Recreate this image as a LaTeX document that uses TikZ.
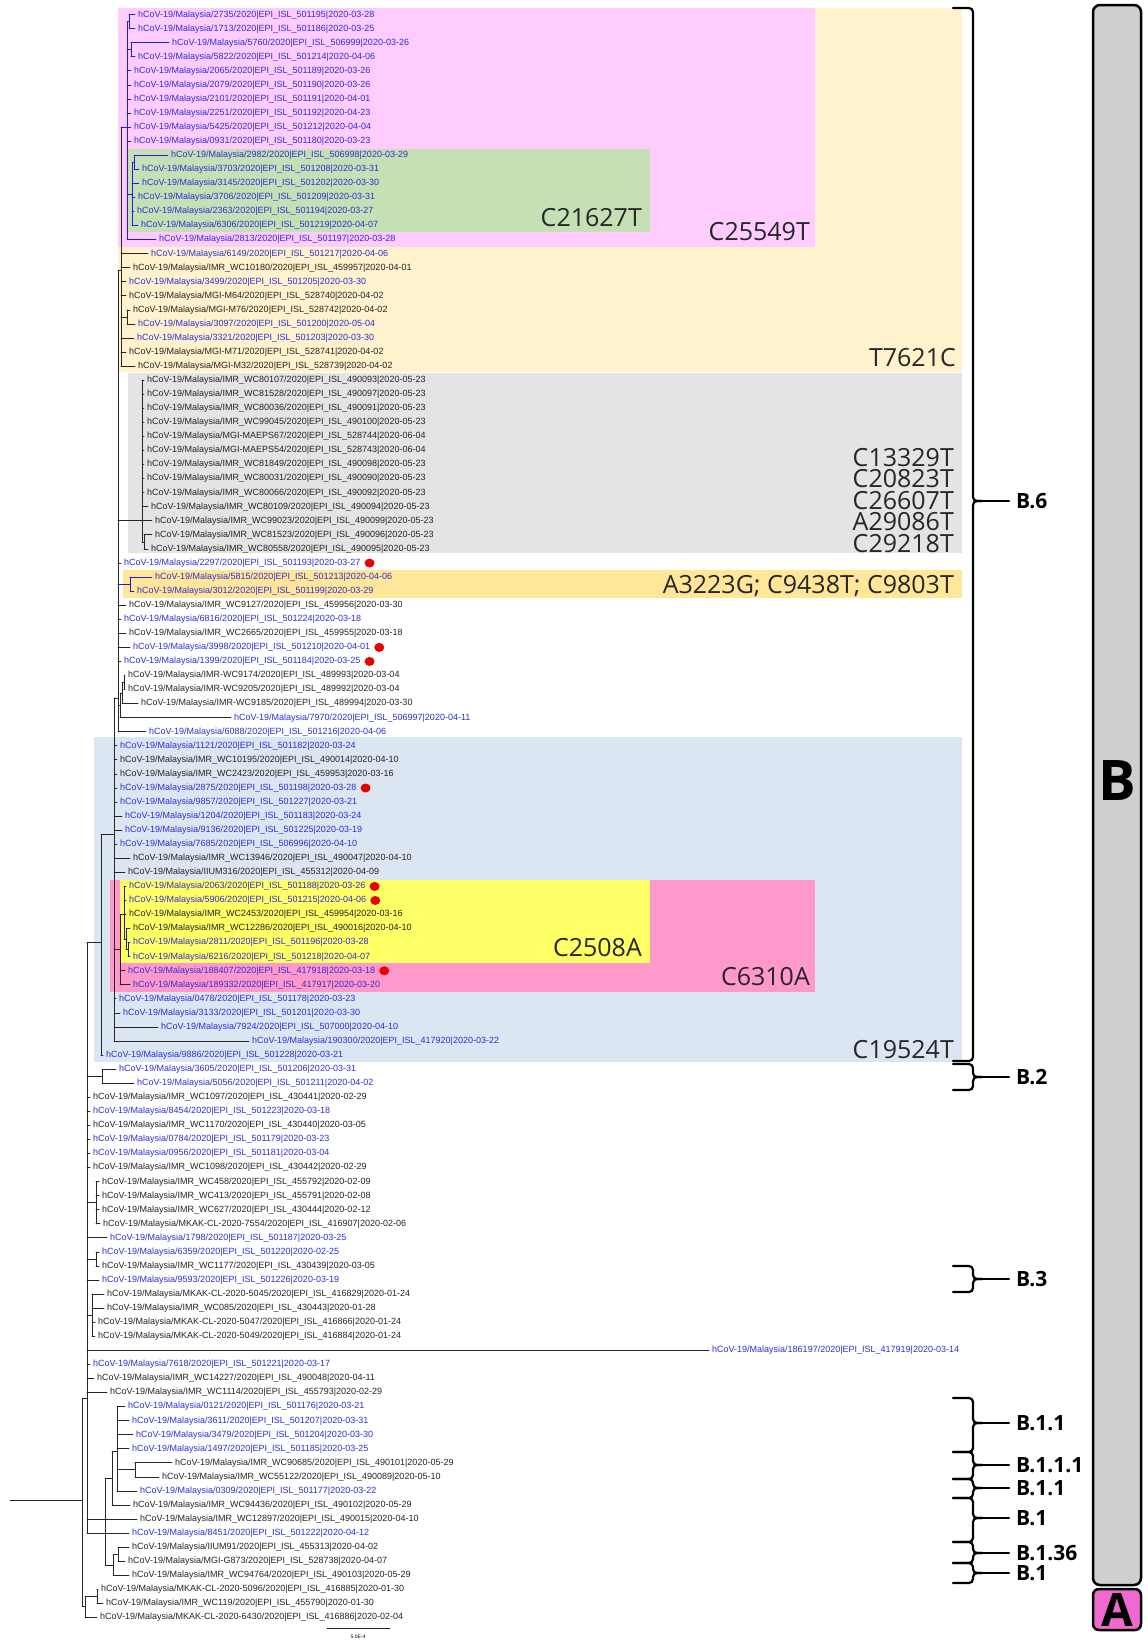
\documentclass[tikz,border=0pt]{standalone}
\usepackage{fontspec}
\setmainfont{Liberation Sans}
\newfontfamily\osans{Open Sans}
\usepackage{tikz}

\definecolor{leafblue}{RGB}{45,45,215}
\definecolor{leafblack}{RGB}{35,35,35}
\definecolor{treeblue}{RGB}{30,30,225}
\definecolor{creambox}{RGB}{255,242,204}
\definecolor{pinkbox}{RGB}{255,204,255}
\definecolor{greenbox}{RGB}{197,224,180}
\definecolor{greybox}{RGB}{228,228,228}
\definecolor{orangebox}{RGB}{255,230,153}
\definecolor{bluebox}{RGB}{220,230,242}
\definecolor{rosebox}{RGB}{255,153,204}
\definecolor{yellowbox}{RGB}{255,255,102}
\definecolor{bargrey}{RGB}{208,206,206}
\definecolor{barpink}{RGB}{238,106,206}
\definecolor{dotred}{RGB}{235,0,0}

\tikzset{
  branch/.style={draw=black!85, line width=0.9pt, line cap=round},
  leaf/.style={anchor=west, inner xsep=3pt, inner ysep=0pt, font=\fontsize{9}{10}\selectfont},
  bluetx/.style={text=leafblue},
  blacktx/.style={text=leafblack},
  mutlab/.style={anchor=east, inner sep=0pt, text height=17pt, text depth=0pt,
    text=black!85, font=\osans\fontsize{25}{26}\selectfont},
  mutstack/.style={anchor=north east, inner sep=0pt, align=right,
    text=black!85, font=\osans\fontsize{25}{21.5}\selectfont},
  linlab/.style={anchor=west, inner sep=0pt, font=\osans\bfseries\fontsize{21}{22}\selectfont},
  pbrace/.style={line width=2.2pt, line cap=round},
  cladeletter/.style={inner sep=0pt, font=\osans\bfseries\fontsize{56}{56}\selectfont}
}

% row -> y (pixels, downwards)
\newcommand{\rowy}[1]{(14.06*(#1)+0.64)}
% leaf: row, parent x, text x, colour style, id, EPI number, date
\newcommand{\seqleaf}[7]{%
  \node[leaf,#4] (l#1) at ({#3-3},{\rowy{#1}}) {hCoV-19/Malaysia/#5/2020|EPI\_ISL\_#6|2020-#7};
  \draw[branch] (#2,{\rowy{#1}}) -- (l#1.west);}
% inner node: name, x, row, top row, bottom row, parent x
\newcommand{\clade}[6]{%
  \coordinate (#1) at (#2,{\rowy{#3}});
  \draw[branch] (#2,{\rowy{#4}}) -- (#2,{\rowy{#5}});
  \draw[branch] (#6,{\rowy{#3}}) -- (#1);}
% lineage bracket: name, top, tip, bottom, label
\newcommand{\lineage}[5]{%
  \draw[pbrace, rounded corners=4pt] (953,#2) -- (973,#2) -- (973,#3) -- (982,#3);
  \draw[pbrace, rounded corners=4pt] (953,#4) -- (973,#4) -- (973,#3) -- (982,#3);
  \draw[pbrace] (980,#3) -- (1009,#3);
  \node[linlab] (#1) at (1016,#3) {#5};}

\begin{document}
\begin{tikzpicture}[x=1pt, y=-1pt]
    \useasboundingbox (0,0) rectangle (1148,1644);

    % Coloured clade boxes
    \fill[creambox] (118,8) rectangle (962,372);
    \fill[pinkbox] (118,8) rectangle (815,247);
    \fill[greenbox] (128,149) rectangle (650,232);
    \fill[greybox] (128,373) rectangle (962,553);
    \fill[orangebox] (123,570) rectangle (962,598);
    \fill[bluebox] (94,737) rectangle (962,1062);
    \fill[rosebox] (110,880) rectangle (815,992);
    \fill[yellowbox] (120,880) rectangle (650,963);

    % C25549T clade
    \begin{scope}[branch/.append style={draw=treeblue}]
    \clade{nP}{127}{9}{1.5}{17}{121}
    \clade{nA12}{129}{1.5}{1}{2}{127}
    \clade{nA34}{131}{3.5}{3}{4}{127}
    \clade{nG}{132}{13.75}{11.5}{16}{127}
    \clade{nA1112}{134}{11.5}{11}{12}{132}
    \seqleaf{1}{129}{138}{bluetx}{2735}{501195}{03-28}
    \seqleaf{2}{129}{138}{bluetx}{1713}{501186}{03-25}
    \seqleaf{3}{131}{172}{bluetx}{5760}{506999}{03-26}
    \seqleaf{4}{131}{138}{bluetx}{5822}{501214}{04-06}
    \seqleaf{5}{127}{134}{bluetx}{2065}{501189}{03-26}
    \seqleaf{6}{127}{134}{bluetx}{2079}{501190}{03-26}
    \seqleaf{7}{127}{134}{bluetx}{2101}{501191}{04-01}
    \seqleaf{8}{127}{134}{bluetx}{2251}{501192}{04-23}
    \seqleaf{9}{127}{134}{bluetx}{5425}{501212}{04-04}
    \seqleaf{10}{127}{134}{bluetx}{0931}{501180}{03-23}
    \seqleaf{11}{134}{171}{bluetx}{2982}{506998}{03-29}
    \seqleaf{12}{134}{142}{bluetx}{3703}{501208}{03-31}
    \seqleaf{13}{132}{142}{bluetx}{3145}{501202}{03-30}
    \seqleaf{14}{132}{138}{bluetx}{3706}{501209}{03-31}
    \seqleaf{15}{132}{137}{bluetx}{2363}{501194}{03-27}
    \seqleaf{16}{132}{141}{bluetx}{6306}{501219}{04-07}
    \seqleaf{17}{127}{159}{bluetx}{2813}{501197}{03-28}
    \end{scope}

    % T7621C clade
    \clade{nT}{121}{19.2}{9}{26}{118}
    \clade{nA2223}{127}{22.5}{22}{23}{121}
    \seqleaf{18}{121}{151}{bluetx}{6149}{501217}{04-06}
    \seqleaf{19}{121}{133}{blacktx}{IMR\_WC10180}{459957}{04-01}
    \seqleaf{20}{121}{129}{bluetx}{3499}{501205}{03-30}
    \seqleaf{21}{121}{129}{blacktx}{MGI-M64}{528740}{04-02}
    \seqleaf{22}{127}{133}{blacktx}{MGI-M76}{528742}{04-02}
    \seqleaf{23}{127}{138}{bluetx}{3097}{501200}{05-04}
    \seqleaf{24}{121}{137}{bluetx}{3321}{501203}{03-30}
    \seqleaf{25}{121}{129}{blacktx}{MGI-M71}{528741}{04-02}
    \seqleaf{26}{121}{138}{blacktx}{MGI-M32}{528739}{04-02}

    % grey clade
    \clade{nGr}{142}{37}{27}{38.5}{118}
    \clade{nA3839}{144}{38.5}{38}{39}{142}
    \seqleaf{27}{142}{147}{blacktx}{IMR\_WC80107}{490093}{05-23}
    \seqleaf{28}{142}{147}{blacktx}{IMR\_WC81528}{490097}{05-23}
    \seqleaf{29}{142}{147}{blacktx}{IMR\_WC80036}{490091}{05-23}
    \seqleaf{30}{142}{147}{blacktx}{IMR\_WC99045}{490100}{05-23}
    \seqleaf{31}{142}{147}{blacktx}{MGI-MAEPS67}{528744}{06-04}
    \seqleaf{32}{142}{147}{blacktx}{MGI-MAEPS54}{528743}{06-04}
    \seqleaf{33}{142}{147}{blacktx}{IMR\_WC81849}{490098}{05-23}
    \seqleaf{34}{142}{147}{blacktx}{IMR\_WC80031}{490090}{05-23}
    \seqleaf{35}{142}{147}{blacktx}{IMR\_WC80066}{490092}{05-23}
    \seqleaf{36}{142}{151}{blacktx}{IMR\_WC80109}{490094}{05-23}
    \seqleaf{37}{142}{155}{blacktx}{IMR\_WC99023}{490099}{05-23}
    \seqleaf{38}{144}{155}{blacktx}{IMR\_WC81523}{490096}{05-23}
    \seqleaf{39}{144}{151}{blacktx}{IMR\_WC80558}{490095}{05-23}

    % rest of the upper B.6 part
    \clade{nU}{118}{49.6}{19.2}{52}{114}
    \seqleaf{40}{118}{124}{bluetx}{2297}{501193}{03-27}
    \begin{scope}[branch/.append style={draw=treeblue}]
    \clade{nA4142}{130}{41.5}{41}{42}{118}
    \seqleaf{41}{130}{155}{bluetx}{5815}{501213}{04-06}
    \seqleaf{42}{130}{137}{bluetx}{3012}{501199}{03-29}
    \end{scope}
    \seqleaf{43}{118}{129}{blacktx}{IMR\_WC9127}{459956}{03-30}
    \seqleaf{44}{118}{124}{bluetx}{6816}{501224}{03-18}
    \seqleaf{45}{118}{129}{blacktx}{IMR\_WC2665}{459955}{03-18}
    \seqleaf{46}{118}{133}{bluetx}{3998}{501210}{04-01}
    \seqleaf{47}{118}{124}{bluetx}{1399}{501184}{03-25}
    \clade{nQ1}{120}{50.1}{49.25}{51}{118}
    \clade{nQ2}{122}{49.25}{48.5}{50}{120}
    \clade{nQ3}{124}{48.5}{48}{49}{122}
    \seqleaf{48}{124}{128}{blacktx}{IMR-WC9174}{489993}{03-04}
    \seqleaf{49}{124}{128}{blacktx}{IMR-WC9205}{489992}{03-04}
    \seqleaf{50}{122}{141}{blacktx}{IMR-WC9185}{489994}{03-30}
    \seqleaf{51}{120}{234}{bluetx}{7970}{506997}{04-11}
    \seqleaf{52}{118}{149}{bluetx}{6088}{501216}{04-06}

    % C19524T clade
    \clade{nV}{114}{59.3}{49.6}{74}{101}
    \seqleaf{53}{114}{120}{bluetx}{1121}{501182}{03-24}
    \seqleaf{54}{114}{120}{blacktx}{IMR\_WC10195}{490014}{04-10}
    \seqleaf{55}{114}{120}{blacktx}{IMR\_WC2423}{459953}{03-16}
    \seqleaf{56}{114}{120}{bluetx}{2875}{501198}{03-28}
    \seqleaf{57}{114}{120}{bluetx}{9857}{501227}{03-21}
    \seqleaf{58}{114}{125}{bluetx}{1204}{501183}{03-24}
    \seqleaf{59}{114}{125}{bluetx}{9136}{501225}{03-19}
    \seqleaf{60}{114}{120}{bluetx}{7685}{506996}{04-10}
    \seqleaf{61}{114}{133}{blacktx}{IMR\_WC13946}{490047}{04-10}
    \seqleaf{62}{114}{128}{blacktx}{IIUM316}{455312}{04-09}
    \clade{nK}{120}{67.5}{65}{70}{114}
    \clade{nY}{124}{65}{63}{66.75}{120}
    \clade{nY2}{126}{66.75}{66}{67.5}{124}
    \clade{nA6768}{128}{67.5}{67}{68}{126}
    \seqleaf{63}{124}{129}{bluetx}{2063}{501188}{03-26}
    \seqleaf{64}{124}{129}{bluetx}{5906}{501215}{04-06}
    \seqleaf{65}{124}{129}{blacktx}{IMR\_WC2453}{459954}{03-16}
    \seqleaf{66}{126}{133}{blacktx}{IMR\_WC12286}{490016}{04-10}
    \seqleaf{67}{128}{133}{bluetx}{2811}{501196}{03-28}
    \seqleaf{68}{128}{133}{bluetx}{6216}{501218}{04-07}
    \seqleaf{69}{120}{128}{bluetx}{188407}{417918}{03-18}
    \seqleaf{70}{120}{133}{bluetx}{189332}{417917}{03-20}
    \seqleaf{71}{114}{119}{bluetx}{0478}{501178}{03-23}
    \seqleaf{72}{114}{123}{bluetx}{3133}{501201}{03-30}
    \seqleaf{73}{114}{161}{bluetx}{7924}{507000}{04-10}
    \seqleaf{74}{114}{252}{bluetx}{190300}{417920}{03-22}

    % B.6 node, B.2 and the backbone
    \clade{nN6}{101}{67}{59.3}{75}{87}
    \seqleaf{75}{101}{106}{bluetx}{9886}{501228}{03-21}
    \clade{nB2}{102}{76.5}{76}{77}{87}
    \seqleaf{76}{102}{119}{bluetx}{3605}{501206}{03-31}
    \seqleaf{77}{102}{137}{bluetx}{5056}{501211}{04-02}
    \seqleaf{78}{87}{93}{blacktx}{IMR\_WC1097}{430441}{02-29}
    \seqleaf{79}{87}{93}{bluetx}{8454}{501223}{03-18}
    \seqleaf{80}{87}{93}{blacktx}{IMR\_WC1170}{430440}{03-05}
    \seqleaf{81}{87}{93}{bluetx}{0784}{501179}{03-23}
    \seqleaf{82}{87}{93}{bluetx}{0956}{501181}{03-04}
    \seqleaf{83}{87}{93}{blacktx}{IMR\_WC1098}{430442}{02-29}
    \clade{nA8487}{96}{85.5}{84}{87}{87}
    \seqleaf{84}{96}{102}{blacktx}{IMR\_WC458}{455792}{02-09}
    \seqleaf{85}{96}{102}{blacktx}{IMR\_WC413}{455791}{02-08}
    \seqleaf{86}{96}{102}{blacktx}{IMR\_WC627}{430444}{02-12}
    \seqleaf{87}{96}{103}{blacktx}{MKAK-CL-2020-7554}{416907}{02-06}
    \seqleaf{88}{87}{110}{bluetx}{1798}{501187}{03-25}
    \clade{nA8990}{96}{89.5}{89}{90}{87}
    \seqleaf{89}{96}{102}{bluetx}{6359}{501220}{02-25}
    \seqleaf{90}{96}{102}{blacktx}{IMR\_WC1177}{430439}{03-05}
    \seqleaf{91}{87}{102}{bluetx}{9593}{501226}{03-19}
    \clade{nA9295}{92}{93.5}{92}{95}{87}
    \seqleaf{92}{92}{107}{blacktx}{MKAK-CL-2020-5045}{416829}{01-24}
    \seqleaf{93}{92}{107}{blacktx}{IMR\_WC085}{430443}{01-28}
    \seqleaf{94}{92}{98}{blacktx}{MKAK-CL-2020-5047}{416866}{01-24}
    \seqleaf{95}{92}{98}{blacktx}{MKAK-CL-2020-5049}{416884}{01-24}
    \seqleaf{96}{87}{712}{bluetx}{186197}{417919}{03-14}
    \seqleaf{97}{87}{93}{bluetx}{7618}{501221}{03-17}
    \seqleaf{98}{87}{97}{blacktx}{IMR\_WC14227}{490048}{04-11}
    \seqleaf{99}{87}{110}{blacktx}{IMR\_WC1114}{455793}{02-29}
    \clade{nX}{87}{99.4}{67}{109}{82}

    % B.1 part
    \clade{nB1a}{105}{108}{105.1}{111.3}{87}
    \clade{nB1b}{112}{105.1}{103.2}{107}{105}
    \clade{nB11}{117}{103.2}{100}{106}{112}
    \clade{nA104}{135}{104.5}{104}{105}{117}
    \seqleaf{100}{117}{128}{bluetx}{0121}{501176}{03-21}
    \seqleaf{101}{117}{132}{bluetx}{3611}{501207}{03-31}
    \seqleaf{102}{117}{136}{bluetx}{3479}{501204}{03-30}
    \seqleaf{103}{117}{132}{bluetx}{1497}{501185}{03-25}
    \seqleaf{104}{135}{175}{blacktx}{IMR\_WC90685}{490101}{05-29}
    \seqleaf{105}{135}{162}{blacktx}{IMR\_WC55122}{490089}{05-10}
    \seqleaf{106}{117}{140}{bluetx}{0309}{501177}{03-22}
    \seqleaf{107}{112}{133}{blacktx}{IMR\_WC94436}{490102}{05-29}
    \seqleaf{108}{105}{140}{blacktx}{IMR\_WC12897}{490015}{04-10}
    \seqleaf{109}{87}{132}{bluetx}{8451}{501222}{04-12}
    \clade{nN110}{113}{111.3}{110.5}{112}{105}
    \clade{nA1011}{118}{110.5}{110}{111}{113}
    \seqleaf{110}{118}{132}{blacktx}{IIUM91}{455313}{04-02}
    \seqleaf{111}{118}{128}{blacktx}{MGI-G873}{528738}{04-07}
    \seqleaf{112}{113}{132}{blacktx}{IMR\_WC94764}{490103}{05-29}

    % lineage A side and root
    \clade{nC}{85}{114.2}{113.5}{115}{82}
    \clade{nA1314}{97}{113.5}{113}{114}{85}
    \seqleaf{113}{97}{101}{blacktx}{MKAK-CL-2020-5096}{416885}{01-30}
    \seqleaf{114}{97}{106}{blacktx}{IMR\_WC119}{455790}{01-30}
    \seqleaf{115}{85}{100}{blacktx}{MKAK-CL-2020-6430}{416886}{02-04}
    \clade{nR}{82}{106.7}{99.4}{114.2}{10}

    % red dots
    \foreach \k in {40,46,47,56,63,64,69}
        \fill[dotred] ([xshift=6pt]l\k.east) ellipse (5 and 4.5);

    % mutation labels
    \node[mutlab] (m21627) at (642,218) {C21627T};
    \node[mutlab] (m25549) at (810,232) {C25549T};
    \node[mutlab] (m7621) at (956,358) {T7621C};
    \node[mutstack] (mgrey) at (954,448) {C13329T\\C20823T\\C26607T\\A29086T\\C29218T};
    \node[mutlab] (m3223) at (954,585) {A3223G; C9438T; C9803T};
    \node[mutlab] (m2508) at (642,948) {C2508A};
    \node[mutlab] (m6310) at (810,977) {C6310A};
    \node[mutlab] (m19524) at (954,1050) {C19524T};

    % lineage brackets
    \lineage{b6}{8}{501}{1061}{B.6}
    \lineage{b2}{1064}{1077}{1090}{B.2}
    \lineage{b3}{1266}{1279}{1292}{B.3}
    \lineage{b11a}{1398}{1423}{1452}{B.1.1}
    \lineage{b111}{1452}{1465}{1479}{B.1.1.1}
    \lineage{b11b}{1479}{1488}{1498}{B.1.1}
    \lineage{b1a}{1498}{1518}{1542}{B.1}
    \lineage{b136}{1542}{1553}{1563}{B.1.36}
    \lineage{b1b}{1563}{1573}{1583}{B.1}

    % lineage bars A and B
    \draw[line width=2.5pt, fill=bargrey, rounded corners=7pt] (1093,5) rectangle (1141,1585);
    \node[cladeletter] (cladeB) at (1117,781) {B};
    \draw[line width=2.5pt, fill=barpink, rounded corners=6pt] (1093,1589) rectangle (1141,1630);
    \node[cladeletter, font=\osans\bfseries\fontsize{46}{46}\selectfont] (cladeA) at (1117,1610) {A};

    % scale bar
    \draw[branch] (327,1628) -- (390,1628);
    \node[font=\fontsize{5}{5}\selectfont, inner sep=0pt] (sbar) at (358,1637) {5.0E-4};
\end{tikzpicture}
\end{document}
